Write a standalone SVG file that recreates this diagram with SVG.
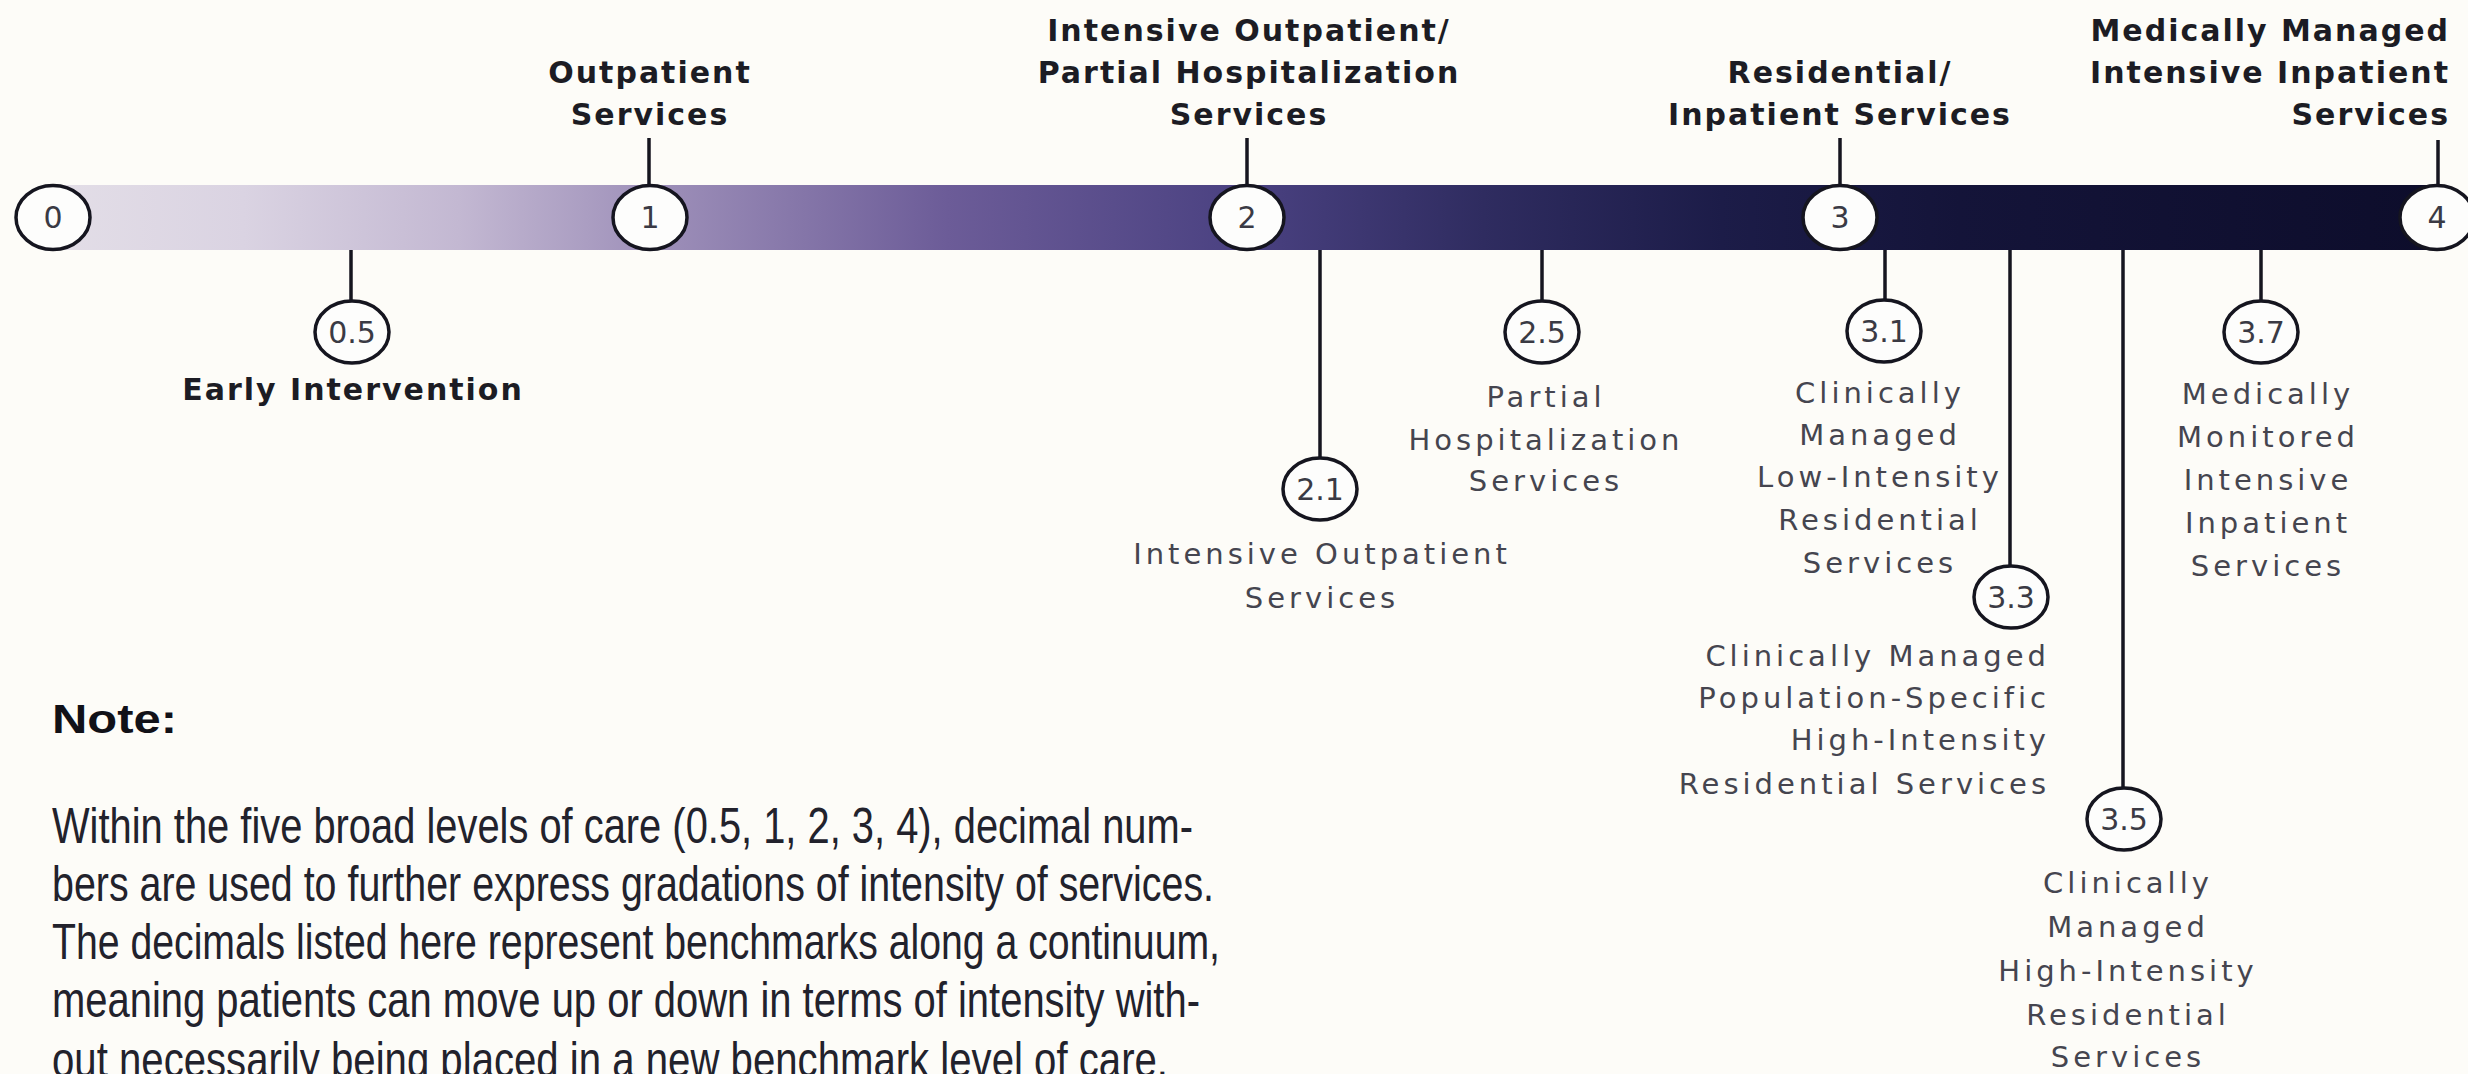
<svg xmlns="http://www.w3.org/2000/svg" width="2468" height="1074" viewBox="0 0 2468 1074">
  <defs>
    <linearGradient id="barGrad" x1="0" y1="0" x2="1" y2="0">
      <stop offset="0" stop-color="#e3dee7"/>
      <stop offset="0.08" stop-color="#dad3e2"/>
      <stop offset="0.17" stop-color="#c3b8d2"/>
      <stop offset="0.25" stop-color="#9f91ba"/>
      <stop offset="0.375" stop-color="#6c5c98"/>
      <stop offset="0.5" stop-color="#4a4181"/>
      <stop offset="0.6" stop-color="#2f2c60"/>
      <stop offset="0.7" stop-color="#1c1c48"/>
      <stop offset="0.8" stop-color="#141439"/>
      <stop offset="1" stop-color="#0d0d2b"/>
    </linearGradient>
    <style>
      .lvl { fill: #fdfdfc; stroke: #15151f; stroke-width: 3.5; }
      .num { font-family: "DejaVu Sans", "Liberation Sans", sans-serif; font-size: 30px; fill: #3a3a44; text-anchor: middle; }
      .head { font-family: "DejaVu Sans", "Liberation Sans", sans-serif; font-weight: bold; font-size: 30px; letter-spacing: 2px; fill: #1c1c24; text-anchor: middle; }
      .sub { font-family: "DejaVu Sans", "Liberation Sans", sans-serif; font-size: 29px; letter-spacing: 4px; fill: #45454f; text-anchor: middle; }
      .end { text-anchor: end; }
      .conn line { stroke: #15151f; stroke-width: 3.5; }
      .note { font-family: "Liberation Sans", Arial, sans-serif; font-size: 50px; fill: #22222c; }
      .noteh { font-family: "Liberation Sans", Arial, sans-serif; font-weight: bold; font-size: 41px; fill: #111118; }
    </style>
  </defs>

  <rect x="0" y="0" width="2468" height="1074" fill="#fdfcf8"/>

  <!-- continuum bar -->
  <rect id="bar" x="53" y="185" width="2384" height="65" fill="url(#barGrad)"/>

  <!-- connectors -->
  <g id="connectors" class="conn">
    <line x1="649" y1="138" x2="649" y2="186"/>
    <line x1="1247" y1="138" x2="1247" y2="186"/>
    <line x1="1840" y1="138" x2="1840" y2="186"/>
    <line x1="2438" y1="140" x2="2438" y2="186"/>
    <line x1="351" y1="250" x2="351" y2="301"/>
    <line x1="1320" y1="250" x2="1320" y2="458"/>
    <line x1="1542" y1="250" x2="1542" y2="302"/>
    <line x1="1885" y1="250" x2="1885" y2="300"/>
    <line x1="2010" y1="250" x2="2010" y2="566"/>
    <line x1="2123" y1="250" x2="2123" y2="788"/>
    <line x1="2261" y1="250" x2="2261" y2="301"/>
  </g>

  <!-- main levels on the bar -->
  <g id="level-0">
    <ellipse class="lvl" cx="53" cy="217.5" rx="37" ry="32"/>
    <text class="num" x="53" y="228">0</text>
  </g>
  <g id="level-1">
    <ellipse class="lvl" cx="650" cy="217.5" rx="37" ry="32"/>
    <text class="num" x="650" y="228">1</text>
    <text class="head" x="650" y="83">Outpatient</text>
    <text class="head" x="650" y="125">Services</text>
  </g>
  <g id="level-2">
    <ellipse class="lvl" cx="1247" cy="217.5" rx="37" ry="32"/>
    <text class="num" x="1247" y="228">2</text>
    <text class="head" x="1249" y="41">Intensive Outpatient/</text>
    <text class="head" x="1249" y="83">Partial Hospitalization</text>
    <text class="head" x="1249" y="125">Services</text>
  </g>
  <g id="level-3">
    <ellipse class="lvl" cx="1840" cy="217.5" rx="37" ry="32"/>
    <text class="num" x="1840" y="228">3</text>
    <text class="head" x="1840" y="83">Residential/</text>
    <text class="head" x="1840" y="125">Inpatient Services</text>
  </g>
  <g id="level-4">
    <ellipse class="lvl" cx="2437" cy="217.5" rx="37" ry="32"/>
    <text class="num" x="2437" y="228">4</text>
    <text class="head end" x="2450" y="41">Medically Managed</text>
    <text class="head end" x="2450" y="83">Intensive Inpatient</text>
    <text class="head end" x="2450" y="125">Services</text>
  </g>

  <!-- decimal benchmarks below the bar -->
  <g id="level-0-5">
    <ellipse class="lvl" cx="352" cy="332" rx="37" ry="31"/>
    <text class="num" x="352" y="343">0.5</text>
    <text class="head" x="353" y="400">Early Intervention</text>
  </g>
  <g id="level-2-1">
    <ellipse class="lvl" cx="1320" cy="489" rx="37" ry="31"/>
    <text class="num" x="1320" y="500">2.1</text>
    <text class="sub" x="1322" y="564">Intensive Outpatient</text>
    <text class="sub" x="1322" y="608">Services</text>
  </g>
  <g id="level-2-5">
    <ellipse class="lvl" cx="1542" cy="332" rx="37" ry="31"/>
    <text class="num" x="1542" y="343">2.5</text>
    <text class="sub" x="1546" y="407">Partial</text>
    <text class="sub" x="1546" y="450">Hospitalization</text>
    <text class="sub" x="1546" y="491">Services</text>
  </g>
  <g id="level-3-1">
    <ellipse class="lvl" cx="1884" cy="331" rx="37" ry="31"/>
    <text class="num" x="1884" y="342">3.1</text>
    <text class="sub" x="1880" y="403">Clinically</text>
    <text class="sub" x="1880" y="445">Managed</text>
    <text class="sub" x="1880" y="487">Low-Intensity</text>
    <text class="sub" x="1880" y="530">Residential</text>
    <text class="sub" x="1880" y="573">Services</text>
  </g>
  <g id="level-3-3">
    <ellipse class="lvl" cx="2011" cy="597" rx="37" ry="31"/>
    <text class="num" x="2011" y="608">3.3</text>
    <text class="sub end" x="2050" y="666">Clinically Managed</text>
    <text class="sub end" x="2050" y="708">Population-Specific</text>
    <text class="sub end" x="2050" y="750">High-Intensity</text>
    <text class="sub end" x="2050" y="794">Residential Services</text>
  </g>
  <g id="level-3-5">
    <ellipse class="lvl" cx="2124" cy="819" rx="37" ry="31"/>
    <text class="num" x="2124" y="830">3.5</text>
    <text class="sub" x="2128" y="893">Clinically</text>
    <text class="sub" x="2128" y="937">Managed</text>
    <text class="sub" x="2128" y="981">High-Intensity</text>
    <text class="sub" x="2128" y="1025">Residential</text>
    <text class="sub" x="2128" y="1067">Services</text>
  </g>
  <g id="level-3-7">
    <ellipse class="lvl" cx="2261" cy="332" rx="37" ry="31"/>
    <text class="num" x="2261" y="343">3.7</text>
    <text class="sub" x="2268" y="404">Medically</text>
    <text class="sub" x="2268" y="447">Monitored</text>
    <text class="sub" x="2268" y="490">Intensive</text>
    <text class="sub" x="2268" y="533">Inpatient</text>
    <text class="sub" x="2268" y="576">Services</text>
  </g>

  <!-- explanatory note -->
  <g id="note">
    <text class="noteh" x="52" y="733" textLength="125" lengthAdjust="spacingAndGlyphs">Note:</text>
    <text class="note" x="52" y="843" textLength="1141" lengthAdjust="spacingAndGlyphs">Within the five broad levels of care (0.5, 1, 2, 3, 4), decimal num-</text>
    <text class="note" x="52" y="901" textLength="1162" lengthAdjust="spacingAndGlyphs">bers are used to further express gradations of intensity of services.</text>
    <text class="note" x="52" y="959" textLength="1168" lengthAdjust="spacingAndGlyphs">The decimals listed here represent benchmarks along a continuum,</text>
    <text class="note" x="52" y="1017" textLength="1148" lengthAdjust="spacingAndGlyphs">meaning patients can move up or down in terms of intensity with-</text>
    <text class="note" x="52" y="1077" textLength="1116" lengthAdjust="spacingAndGlyphs">out necessarily being placed in a new benchmark level of care.</text>
  </g>
</svg>
